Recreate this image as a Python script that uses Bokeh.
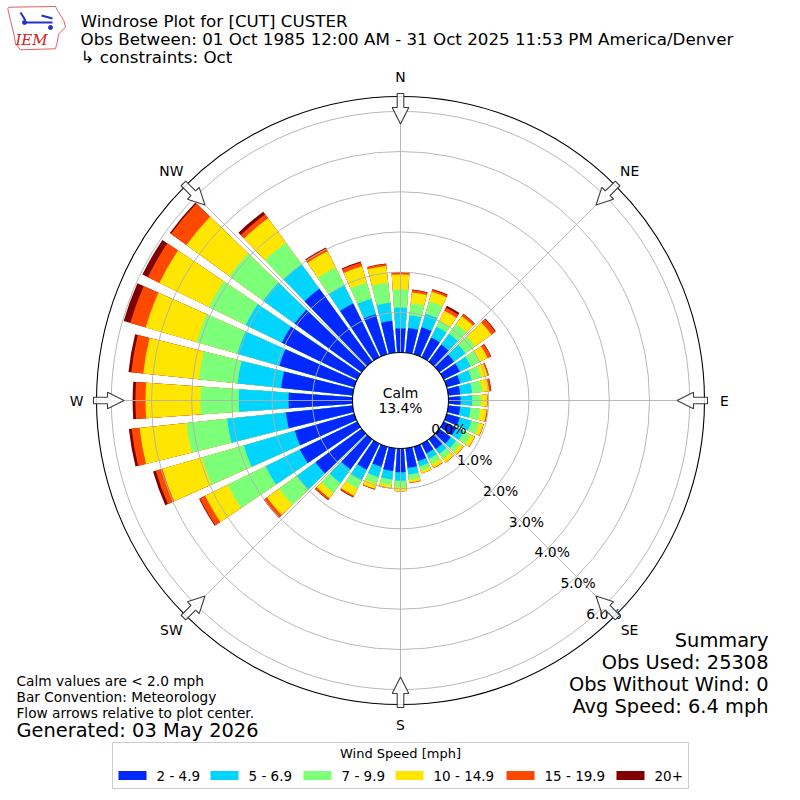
import numpy as np
from bokeh.plotting import figure
from bokeh.models import Range1d, ColumnDataSource
from bokeh.core.properties import value
from bokeh.embed import file_html
from bokeh.resources import INLINE

# ---------------- data (percent of observations) ----------------
directions = list(range(0, 360, 10))
speed_bins = ["2 - 4.9", "5 - 6.9", "7 - 9.9", "10 - 14.9", "15 - 19.9", "20+"]
colors = ["#0028ff", "#00d4ff", "#7cff79", "#ffe600", "#ff4800", "#800000"]

s_2_5 = [0.60, 0.62, 0.70, 0.55, 0.53, 0.45, 0.45, 0.35, 0.30, 0.30, 0.30, 0.34,
         0.35, 0.35, 0.30, 0.27, 0.37, 0.49, 0.59, 0.57, 0.52, 0.72, 0.92, 1.42,
         1.59, 1.54, 1.67, 1.59, 1.79, 1.94, 2.09, 2.06, 2.24, 1.49, 1.04, 0.80]
s_5_7 = [0.52, 0.32, 0.35, 0.30, 0.33, 0.35, 0.30, 0.30, 0.30, 0.29, 0.26, 0.30,
         0.21, 0.16, 0.15, 0.15, 0.14, 0.17, 0.21, 0.21, 0.27, 0.30, 0.42, 0.57,
         0.95, 1.32, 1.47, 1.24, 1.09, 1.09, 1.00, 0.97, 0.75, 0.50, 0.40, 0.45]
s_7_10 = [0.45, 0.30, 0.32, 0.17, 0.30, 0.30, 0.25, 0.25, 0.25, 0.22, 0.24, 0.20,
          0.19, 0.14, 0.15, 0.14, 0.11, 0.13, 0.17, 0.14, 0.17, 0.22, 0.30, 0.55,
          1.05, 1.09, 1.02, 0.95, 0.97, 1.05, 1.02, 1.04, 0.67, 0.50, 0.42, 0.50]
s_10_15 = [0.37, 0.27, 0.25, 0.27, 0.24, 0.50, 0.22, 0.16, 0.17, 0.15, 0.16, 0.11,
           0.11, 0.09, 0.11, 0.11, 0.07, 0.07, 0.09, 0.08, 0.13, 0.20, 0.17, 0.37,
           0.62, 1.02, 1.17, 1.37, 1.39, 1.32, 1.37, 1.32, 0.75, 0.45, 0.42, 0.42]
s_15_20 = [0.05, 0.06, 0.05, 0.09, 0.06, 0.12, 0.09, 0.03, 0.05, 0.01, 0.02, 0.01,
           0.01, 0.01, 0.01, 0.01, 0.005, 0.01, 0.005, 0.01, 0.02, 0.04, 0.05, 0.09,
           0.15, 0.17, 0.20, 0.25, 0.30, 0.40, 0.32, 0.47, 0.12, 0.08, 0.10, 0.05]
s_20p = [0.01, 0.01, 0.02, 0.05, 0.01, 0.02, 0.01, 0.005, 0.01, 0.0, 0.005, 0.0,
         0.0, 0.0, 0.0, 0.0, 0.0, 0.0, 0.0, 0.0, 0.005, 0.01, 0.01, 0.01,
         0.02, 0.07, 0.07, 0.07, 0.07, 0.17, 0.15, 0.04, 0.08, 0.02, 0.02, 0.01]
series = [s_2_5, s_5_7, s_7_10, s_10_15, s_15_20, s_20p]

calm_pct = 13.4
rtick_values = [0.0, 1.0, 2.0, 3.0, 4.0, 5.0, 6.0]
compass = [("N", 0), ("NE", 45), ("E", 90), ("SE", 135),
           ("S", 180), ("SW", 225), ("W", 270), ("NW", 315)]

title_lines = ["Windrose Plot for [CUT] CUSTER",
               "Obs Between: 01 Oct 1985 12:00 AM - 31 Oct 2025 11:53 PM America/Denver",
               "\u21b3 constraints: Oct"]
notes = ["Calm values are < 2.0 mph", "Bar Convention: Meteorology",
         "Flow arrows relative to plot center."]
generated = "Generated: 03 May 2026"
summary = ["Summary", "Obs Used: 25308", "Obs Without Wind: 0", "Avg Speed: 6.4 mph"]

# ---------------- layout constants (pixels) ----------------
R0 = 48.0          # calm circle radius
PX = 40.2          # pixels per percent
R_OUT = 304.0      # outer frame
HALF_W = 4.0       # half bar width, degrees
FONT = value("DejaVu Sans")

p = figure(width=792, height=792, x_range=Range1d(-400, 392), y_range=Range1d(-392, 400),
           output_backend="svg", toolbar_location=None, min_border=0)
p.axis.visible = False
p.grid.visible = False
p.outline_line_color = None
p.background_fill_color = "white"
p.border_fill_color = "white"


def sx(X):
    return X - 400.0


def sy(Y):
    return 400.0 - Y


# ---------------- bars ----------------
cum = np.cumsum(np.array(series), axis=0)   # shape (6, 36)
dirs = np.array(directions, dtype=float)
center = np.radians(90.0 - dirs)
for k in range(len(series) - 1, -1, -1):
    src = ColumnDataSource(dict(
        start=center - np.radians(HALF_W),
        end=center + np.radians(HALF_W),
        outer=R0 + PX * cum[k],
    ))
    p.annular_wedge(x=0, y=0, inner_radius=R0, outer_radius="outer",
                    start_angle="start", end_angle="end", source=src,
                    fill_color=colors[k], line_color=None)

# ---------------- grid ----------------
for t in rtick_values[1:]:
    p.circle(x=0, y=0, radius=R0 + PX * t, fill_color=None,
             line_color="#b0b0b0", line_width=0.9)
ang = np.radians(np.arange(0, 360, 45))
p.segment(x0=R0 * np.sin(ang), y0=R0 * np.cos(ang),
          x1=R_OUT * np.sin(ang), y1=R_OUT * np.cos(ang),
          line_color="#b0b0b0", line_width=0.9)
p.circle(x=0, y=0, radius=R_OUT, fill_color=None, line_color="black", line_width=1.1)
p.circle(x=0, y=0, radius=R0, fill_color="white", line_color="black", line_width=1.1)

p.text(x=[0, 0], y=[8, -7], text=["Calm", f"{calm_pct:.1f}%"], text_font=FONT,
       text_font_size="13.9px", text_align="center", text_baseline="middle",
       text_color="black")

# radial labels along 140 degrees
ra = np.radians(140.0)
rl_r = R0 + PX * np.array(rtick_values)
p.text(x=rl_r * np.sin(ra) + 17.5, y=rl_r * np.cos(ra) + 8,
       text=[f"{v:.1f}%" for v in rtick_values], text_font=FONT,
       text_font_size="13.9px", text_align="center", text_baseline="middle",
       text_color="black")

# compass labels
cang = np.radians([c[1] for c in compass])
p.text(x=324 * np.sin(cang), y=324 * np.cos(cang), text=[c[0] for c in compass],
       text_font=FONT, text_font_size="13.9px", text_align="center",
       text_baseline="middle", text_color="black")

# flow arrows (pointing to center)
shape = [(307, -3.3), (307, 3.3), (293, 3.3), (293, 8.3), (276.5, 0.0),
         (293, -8.3), (293, -3.3)]
axs, ays = [], []
for a in cang:
    o = np.array([np.sin(a), np.cos(a)])
    n = np.array([np.cos(a), -np.sin(a)])
    pts = [r * o + w * n for r, w in shape]
    axs.append([q[0] for q in pts])
    ays.append([q[1] for q in pts])
p.patches(xs=axs, ys=ays, fill_color="white", fill_alpha=0.85,
          line_color="#3c3c3c", line_width=1.1)

# ---------------- titles ----------------
p.text(x=[sx(80)] * 3, y=[sy(20), sy(38), sy(56)], text=title_lines, text_font=FONT,
       text_font_size="16.7px", text_align="left", text_baseline="middle",
       text_color="black")
# small IEM logo
logo = [(8.3, 6.7), (55, 6), (57, 10), (63.3, 20), (65, 26.7), (58.3, 33.3),
        (56.7, 41.7), (55, 48.3), (20, 49.3), (15, 43.3), (13.3, 33.3), (10, 20), (7.3, 8.3)]
p.patch(x=[sx(a) for a, b in logo], y=[sy(b) for a, b in logo], fill_color="white",
        line_color="#e06060", line_width=1)
p.segment(x0=[sx(24), sx(41), sx(20)], y0=[sy(22), sy(15), sy(12)],
          x1=[sx(52), sx(52), sx(25)], y1=[sy(22), sy(18), sy(20)],
          line_color="#2233cc", line_width=2)
p.scatter(x=[sx(24), sx(50)], y=[sy(22), sy(27)], size=4, color="#2233cc")
p.text(x=[sx(31)], y=[sy(39)], text=["IEM"], text_font=value("DejaVu Serif"),
       text_font_style="italic", text_font_size="15px", text_align="center",
       text_baseline="middle", text_color="#d42020")

# ---------------- footer texts ----------------
p.text(x=[sx(16)] * 3, y=[sy(680), sy(696), sy(712)], text=notes, text_font=FONT,
       text_font_size="13.7px", text_align="left", text_baseline="middle",
       text_color="black")
p.text(x=[sx(16)], y=[sy(730)], text=[generated], text_font=FONT,
       text_font_size="19.4px", text_align="left", text_baseline="middle",
       text_color="black")
p.text(x=[sx(768)] * 4, y=[sy(640), sy(662), sy(684), sy(706)], text=summary,
       text_font=FONT, text_font_size="19.4px", text_align="right",
       text_baseline="middle", text_color="black")

# ---------------- legend ----------------
p.quad(left=sx(112), right=sx(688), top=sy(742), bottom=sy(788),
       fill_color="white", line_color="#cccccc", line_width=1)
p.text(x=[0], y=[sy(753)], text=["Wind Speed [mph]"], text_font=FONT,
       text_font_size="13px", text_align="center", text_baseline="middle",
       text_color="black")
patch_left = [118, 210, 303, 395, 506, 616]
p.quad(left=[sx(v) for v in patch_left], right=[sx(v + 28) for v in patch_left],
       top=sy(770.5), bottom=sy(779.5), fill_color=colors, line_color=None)
p.text(x=[sx(v + 38) for v in patch_left], y=[sy(775)] * 6, text=speed_bins,
       text_font=FONT, text_font_size="13.5px", text_align="left",
       text_baseline="middle", text_color="black")

open("out.html", "w").write(file_html(p, INLINE))
